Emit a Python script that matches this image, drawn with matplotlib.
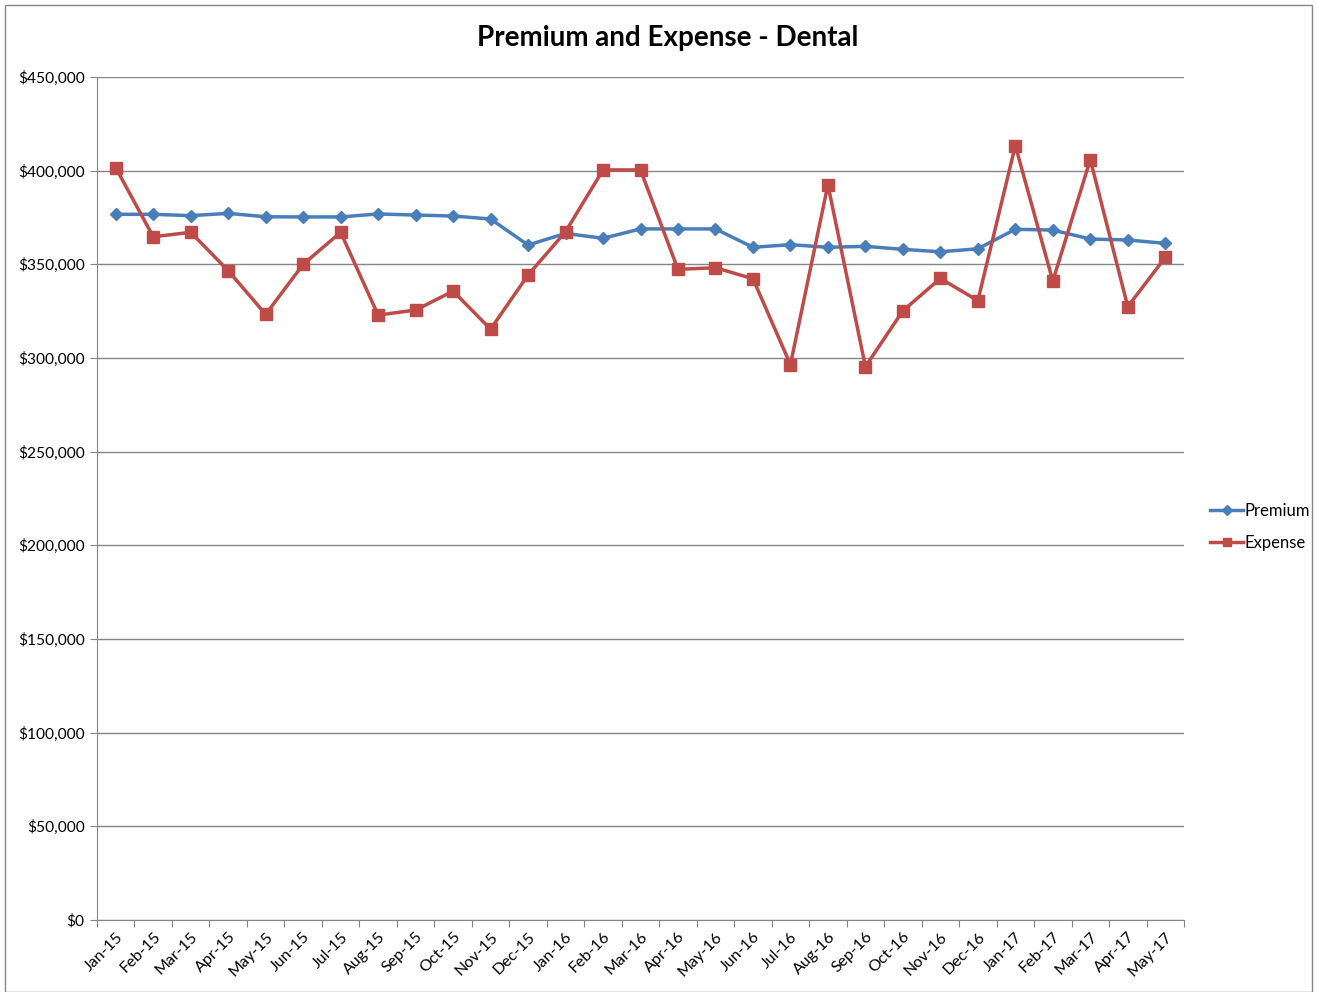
import matplotlib
matplotlib.use('Agg')
import matplotlib.pyplot as plt
from matplotlib.patches import Rectangle
from matplotlib.ticker import FuncFormatter
import numpy as np

plt.rcParams['font.family'] = ['Lato', 'DejaVu Sans']

# ---------------- data ---------------- #
months = ['Jan-15', 'Feb-15', 'Mar-15', 'Apr-15', 'May-15', 'Jun-15', 'Jul-15',
          'Aug-15', 'Sep-15', 'Oct-15', 'Nov-15', 'Dec-15', 'Jan-16', 'Feb-16',
          'Mar-16', 'Apr-16', 'May-16', 'Jun-16', 'Jul-16', 'Aug-16', 'Sep-16',
          'Oct-16', 'Nov-16', 'Dec-16', 'Jan-17', 'Feb-17', 'Mar-17', 'Apr-17',
          'May-17']

premium = [376700, 376700, 376000, 377200, 375400, 375300, 375300, 376900,
           376300, 375800, 374200, 360300, 366500, 363900, 368900, 368900,
           368900, 359100, 360500, 359100, 359600, 358000, 356700, 358300,
           368700, 368300, 363500, 363000, 361200]

expense = [401600, 364700, 367100, 346600, 323300, 350000, 367100, 322900,
           325600, 335700, 315400, 344300, 367400, 400400, 400400, 347300,
           348200, 342300, 296500, 392500, 295400, 325200, 342500, 330600,
           413400, 341100, 405900, 327400, 353700]

# ---------------- plot ---------------- #
fig = plt.figure(figsize=(13.17, 9.92), dpi=100)
ax = fig.add_axes([97 / 1317, 1 - 920 / 992, (1184 - 97) / 1317, (920 - 77) / 992])

x = np.arange(len(months))
ax.plot(x, premium, color='#4A7EBB', linewidth=2.5, marker='D', markersize=6.5,
        label='Premium', zorder=3)
ax.plot(x, expense, color='#BE4B48', linewidth=2.5, marker='s', markersize=8,
        label='Expense', zorder=4)

ax.set_xlim(-0.5, len(months) - 0.5)
ax.set_ylim(0, 450000)
ax.set_yticks(np.arange(0, 450001, 50000))
ax.yaxis.set_major_formatter(FuncFormatter(lambda v, p: '${:,.0f}'.format(v)))
ax.grid(axis='y', color='#868686', linewidth=1)
ax.set_axisbelow(True)

# category ticks between the points, labels under points
ax.set_xticks(np.arange(-0.5, len(months) + 0.5, 1))
ax.set_xticklabels([])
ax.set_xticks(x, minor=True)
ax.set_xticklabels(months, minor=True, rotation=45, ha='right',
                   rotation_mode='anchor', fontsize=11.5)
ax.tick_params(axis='x', which='minor', length=0, pad=7)
ax.tick_params(axis='x', which='major', length=5, color='#868686', direction='out')
ax.tick_params(axis='y', length=5, color='#868686', labelsize=11.2, pad=4)

for s in ['top', 'right']:
    ax.spines[s].set_visible(False)
for s in ['left', 'bottom']:
    ax.spines[s].set_color('#868686')

fig.text(668 / 1317, 1 - 38 / 992, 'Premium and Expense - Dental', ha='center',
         va='center', fontsize=20, fontweight='bold')

fig.legend(loc='center left', bbox_to_anchor=(1195 / 1317, 1 - 527 / 992),
           frameon=False, fontsize=12, handlelength=2.0, handletextpad=0.1,
           labelspacing=0.95, markerscale=0.8)

fig.patches.append(Rectangle((5 / 1317, 0), 1 - 10 / 1317, 1 - 5 / 992,
                             transform=fig.transFigure, fill=False,
                             edgecolor='#868686', linewidth=1))

fig.savefig('out.png', dpi=100)
